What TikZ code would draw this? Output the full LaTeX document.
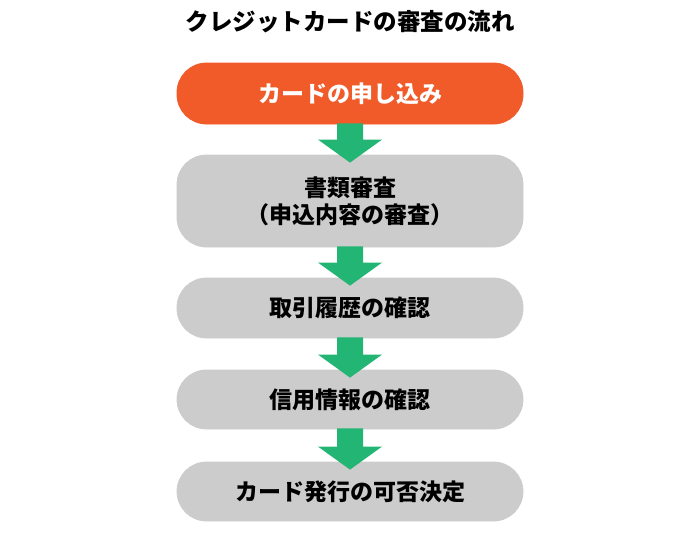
\documentclass[tikz,border=0pt]{standalone}
\usepackage{fontspec}
\setmainfont{Noto Sans CJK JP}
\usetikzlibrary{calc}
\definecolor{corange}{HTML}{F15A29}
\definecolor{cgrey}{HTML}{CCCCCC}
\definecolor{cgreen}{HTML}{22B573}
\tikzset{
  every picture/.style={font=\bfseries},
  stage/.style={rectangle, rounded corners=29.5pt, draw=#1, fill=#1, line width=0.8pt, align=center,
    minimum width=346pt, inner sep=0pt, font=\fontsize{23}{27}\selectfont\bfseries},
  stage/.default=cgrey,
  title/.style={font=\fontsize{23.5}{28}\selectfont\bfseries},
}
% block arrow between two stages
\newcommand\flowarrow[2]{%
  \fill[cgreen] ($(#1.south)+(-13,-1)$) -- ($(#2.north)+(-13,-15)$) -- ($(#2.north)+(-32,-15)$)
    -- ($(#2.north)+(0,8)$) -- ($(#2.north)+(32,-15)$) -- ($(#2.north)+(13,-15)$)
    -- ($(#1.south)+(13,-1)$) -- cycle;}

\begin{document}
\begin{tikzpicture}[x=1pt, y=-1pt]
  \useasboundingbox (0,0) rectangle (700,543);
  \node[title] (head) at (350,22) {クレジットカードの審査の流れ};
  % stages
  \node[stage=corange, minimum height=61pt, text=white] (apply) at (350,93.5) {カードの申し込み};
  \node[stage, minimum height=92pt] (docs) at (350,201) {書類審査\\（申込内容の審査）};
  \node[stage, minimum height=60pt] (history) at (350,308) {取引履歴の確認};
  \node[stage, minimum height=59pt] (credit) at (350,399.5) {信用情報の確認};
  \node[stage, minimum height=59pt] (decide) at (350,491.5) {カード発行の可否決定};
  % arrows
  \flowarrow{apply}{docs}
  \flowarrow{docs}{history}
  \flowarrow{history}{credit}
  \flowarrow{credit}{decide}
\end{tikzpicture}
\end{document}
